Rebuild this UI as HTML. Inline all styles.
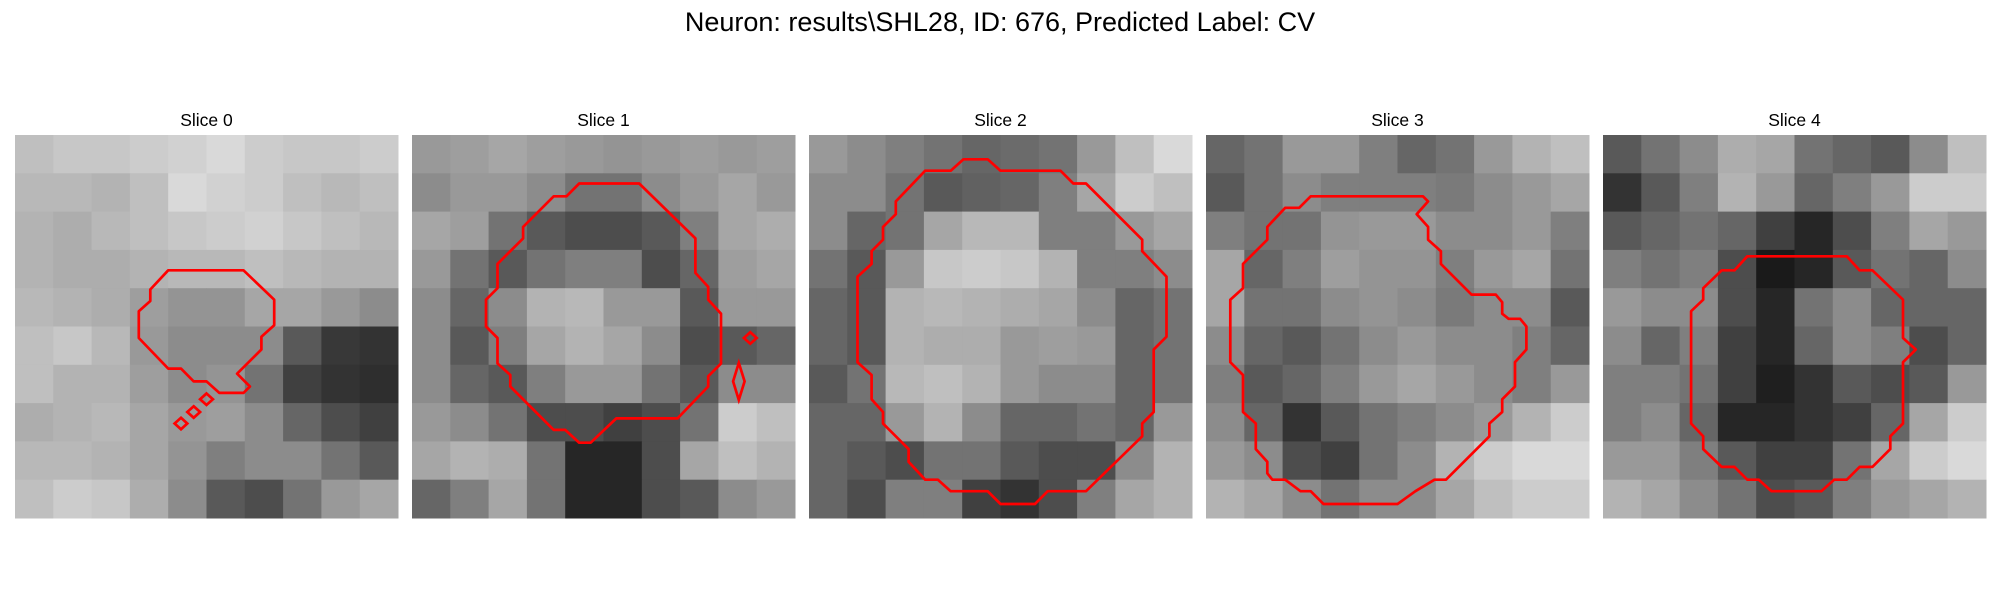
<!DOCTYPE html>
<html><head><meta charset="utf-8"><style>
html,body{margin:0;padding:0;background:#fff;}
svg{display:block;font-family:"Liberation Sans","DejaVu Sans",sans-serif;}
</style></head><body>
<svg id="fig" width="2000" height="600">
<text x="1000" y="31" text-anchor="middle" font-size="27">Neuron: results\SHL28, ID: 676, Predicted Label: CV</text>
</svg>
<script>
// Coarse image intensities (0=black,100=white), 10x10 blocks per slice
const slice0 = [
[75,78,78,80,82,85,80,78,78,80],[72,72,70,75,85,82,80,75,72,75],[70,68,72,75,78,80,82,78,75,72],
[70,68,68,70,72,72,75,72,70,70],[72,70,68,62,58,58,65,65,60,55],[75,78,72,60,55,55,55,35,22,20],
[75,70,70,62,55,58,45,25,20,18],[68,70,72,65,60,62,55,40,30,25],[72,72,70,65,58,50,55,55,45,35],
[75,80,78,68,55,35,30,45,60,65]];
const slice1 = [
[60,62,65,62,60,58,60,62,60,62],[55,60,60,55,45,45,55,60,65,60],[65,62,45,35,30,30,35,50,65,68],
[60,45,35,45,50,50,30,40,62,65],[55,40,55,70,72,60,60,35,60,60],[55,35,50,65,70,65,55,30,35,40],
[55,40,35,50,60,60,45,35,55,55],[60,55,45,30,30,25,30,45,80,75],[65,70,68,45,15,15,30,65,75,70],
[40,50,65,45,15,15,30,35,55,60]];
const slice2 = [
[60,55,50,45,40,42,45,60,75,85],[55,55,45,35,38,40,50,65,80,75],[55,40,45,65,72,72,50,50,60,65],
[45,35,60,78,80,78,70,50,50,55],[40,35,70,72,70,68,65,55,40,45],[40,35,70,68,68,60,62,60,40,45],
[35,45,72,75,70,60,55,55,40,45],[40,40,60,70,55,40,40,45,40,60],[40,35,30,45,45,35,30,30,55,70],
[40,30,50,50,25,20,30,50,65,70]];
const slice3 = [
[40,45,60,60,50,40,45,60,70,75],[35,45,55,50,50,50,48,55,60,65],[50,45,45,58,60,60,55,55,60,50],
[65,40,50,62,58,58,50,60,65,45],[65,45,45,55,58,55,48,55,55,35],[55,40,35,45,55,60,55,55,50,40],
[50,35,40,50,60,65,60,55,50,60],[55,40,20,35,45,50,55,60,70,80],[60,55,30,25,45,55,70,80,85,85],
[70,65,55,45,55,55,65,75,80,80]];
const slice4 = [
[35,45,55,68,65,45,40,35,55,75],[20,35,50,70,60,40,50,60,80,80],[35,40,45,40,25,15,30,50,65,60],
[50,45,50,30,10,15,35,45,40,55],[60,55,55,30,15,45,55,40,40,40],[55,40,50,25,15,40,55,50,30,40],
[50,50,45,25,12,20,35,30,35,60],[50,55,40,15,15,20,25,40,65,80],[60,60,50,35,25,25,45,65,80,85],
[70,65,55,45,30,35,50,60,65,70]];
// Contours in pixel-grid units (0..30)
const contour0 = [[12,10.6],[17.9,10.6],[20.3,12.9],[20.3,14.9],[19.3,15.8],[19.3,16.8],[17.4,18.7],[18.4,19.7],[17.9,20.2],[16,20.2],[15,19.3],[14,19.3],[13,18.3],[12,18.3],[9.7,15.9],[9.7,13.8],[10.6,13],[10.6,12.1]];
const blobs0 = [[15,20.7,0.5,0.45],[14,21.7,0.5,0.45],[13,22.6,0.5,0.45]];
const contour1 = [[13.1,3.8],[17.8,3.8],[22.2,8.1],[22.2,10.8],[23.2,11.9],[23.2,12.9],[24.2,14],[24.2,17.9],[23.2,18.9],[23.2,19.7],[20.8,22.2],[16,22.2],[14,24.1],[13.1,24.1],[12,23.1],[11.1,23.1],[7.7,19.7],[7.7,18.8],[6.7,17.9],[6.7,15.9],[5.8,15],[5.8,12.9],[6.7,12],[6.7,10.1],[8.7,8.1],[8.7,7.2],[11.1,4.8],[12.1,4.8]];
const blobs1 = [[26.5,15.9,0.5,0.45],[25.6,19.3,0.45,1.45]];
const contour2 = [[12.1,1.9],[14,1.9],[15,2.8],[19.7,2.8],[20.7,3.8],[21.7,3.8],[26.1,8.2],[26.1,9.1],[28,11.1],[28,15.8],[27,16.8],[27,21.7],[26.1,22.6],[26.1,23.6],[21.7,27.9],[18.7,27.9],[17.7,28.9],[15,28.9],[14,27.9],[11.1,27.9],[10.1,27],[9.1,27],[7.8,25.6],[7.8,24.6],[5.8,22.6],[5.8,21.7],[4.9,20.7],[4.9,18.8],[3.8,17.8],[3.8,11.1],[4.9,10.1],[4.9,9.1],[5.8,8.2],[5.8,7.2],[6.8,6.2],[6.8,5.2],[9.1,2.8],[11.1,2.8]];
const contour3 = [[8.2,4.8],[17,4.8],[17.4,5.2],[16.5,6.2],[17.4,7.2],[17.4,8.2],[18.4,9.1],[18.4,10.1],[20.8,12.5],[22.7,12.5],[23.2,13.1],[23.2,14],[23.7,14.4],[24.6,14.4],[25.1,15],[25.1,16.8],[24.2,17.8],[24.2,19.7],[23.2,20.7],[23.2,21.7],[22.2,22.6],[22.2,23.6],[18.8,27],[17.9,27],[16.4,27.9],[15,28.9],[9.2,28.9],[8.2,27.9],[7.4,27.9],[6.2,27],[5.2,27],[4.8,26.5],[4.8,25.6],[3.9,24.6],[3.9,22.6],[2.9,21.7],[2.9,18.8],[1.9,17.8],[1.9,12.9],[2.9,12],[2.9,10.1],[4.8,8.2],[4.8,7.2],[6.2,5.7],[7.3,5.7]];
const contour4 = [[11.3,9.5],[19.1,9.5],[20.1,10.6],[21.1,10.6],[23.5,12.9],[23.5,15.9],[24.5,16.8],[23.5,17.8],[23.5,22.6],[22.5,23.6],[22.5,24.6],[21.1,26],[20.1,26],[19.1,27],[18.1,27],[17.1,27.9],[13.2,27.9],[12.2,27],[11.3,27],[10.3,26],[9.3,26],[7.85,24.6],[7.85,23.6],[6.9,22.6],[6.9,13.8],[7.85,12.9],[7.85,12],[9.3,10.6],[10.3,10.6]];
const titles = ["Slice 0","Slice 1","Slice 2","Slice 3","Slice 4"];

const slices=[slice0,slice1,slice2,slice3,slice4];
const contours=[contour0,contour1,contour2,contour3,contour4];
const blobs=[blobs0,blobs1,[],[],[]];
const NS="http://www.w3.org/2000/svg";
const svg=document.getElementById('fig');
const X0=15,PITCH=397,W=383,Y0=135;
function sx(i,v){return X0+i*PITCH+v*W/30;}
function sy(v){return Y0+v*W/30;}
function mk(t,a,p){const e=document.createElementNS(NS,t);for(const k in a)e.setAttribute(k,a[k]);p.appendChild(e);return e;}
slices.forEach((img,i)=>{
  const g=mk('g',{},svg);
  
  
  const n=img.length,cs=30/n;
  img.forEach((row,r)=>row.forEach((v,c)=>{
    const x1=sx(i,c*cs),x2=sx(i,(c+1)*cs),y1=sy(r*cs),y2=sy((r+1)*cs);
    const gv=Math.round(v*2.55);
    const rc=mk('rect',{x:x1,y:y1,width:x2-x1+0.5,height:y2-y1+0.5,fill:`rgb(${gv},${gv},${gv})`},g);
    
    
  }));
  const pts=contours[i].map(p=>sx(i,p[0]).toFixed(1)+','+sy(p[1]).toFixed(1)).join(' ');
  const pg=mk('polygon',{points:pts,fill:'none',stroke:'#ff0000','stroke-width':2.7,'stroke-linejoin':'round'},g);
  
  
  blobs[i].forEach(b=>{
    const [cx,cy,hw,hh]=b;
    const p=[[cx,cy-hh],[cx+hw,cy],[cx,cy+hh],[cx-hw,cy]].map(q=>sx(i,q[0]).toFixed(1)+','+sy(q[1]).toFixed(1)).join(' ');
    const d=mk('polygon',{points:p,fill:'none',stroke:'#ff0000','stroke-width':2.7},g);
    
    
  });
  const t=mk('text',{x:sx(i,15),y:126,'text-anchor':'middle','font-size':17.5},g);
  t.textContent=titles[i];
  
  
});
</script>
</body></html>
